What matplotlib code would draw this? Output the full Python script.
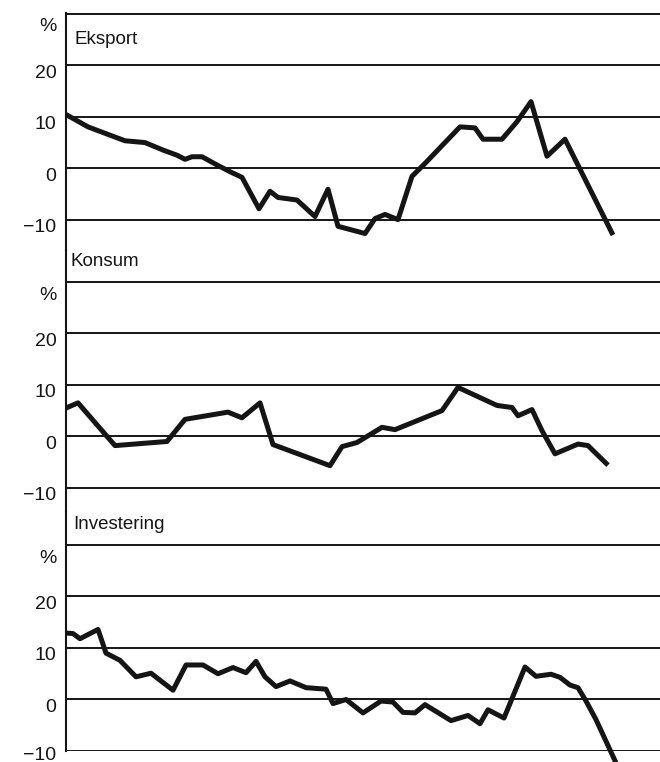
import matplotlib
matplotlib.use("Agg")
import matplotlib.pyplot as plt
import matplotlib.transforms as mtransforms

plt.rcParams['font.family'] = ['Liberation Sans', 'DejaVu Sans']

# time axis in months
eksport_t = [0, 2.2, 3.7, 5.9, 7.9, 9.7, 11.1, 11.9, 12.6, 13.6, 15.1, 16.4, 17.6,
             19.3, 20.4, 21.2, 23.1, 24.9, 26.2, 27.2, 29.9, 30.9, 31.9, 33.2,
             34.6, 35.9, 39.4, 40.9, 41.7, 43.6, 45.1, 46.5, 48.1, 49.9, 54.7]
eksport_v = [10.4, 8.0, 6.9, 5.3, 4.95, 3.5, 2.5, 1.7, 2.2, 2.2, 0.6, -0.7, -1.8,
             -7.9, -4.5, -5.7, -6.2, -9.4, -4.1, -11.3, -12.7, -9.8, -9.0, -10.0,
             -1.6, 0.9, 8.0, 7.8, 5.6, 5.6, 9.0, 12.9, 2.3, 5.6, -13.0]

konsum_t = [0, 1.2, 4.9, 10.1, 11.9, 16.2, 17.6, 19.4, 20.7, 26.4, 27.6, 29.1,
            31.6, 32.9, 37.6, 39.2, 43.1, 44.6, 45.2, 46.6, 47.6, 48.9, 51.2,
            52.2, 54.2]
konsum_v = [5.5, 6.5, -1.8, -1.0, 3.3, 4.7, 3.6, 6.5, -1.6, -5.7, -2.0, -1.2,
            1.75, 1.3, 5.0, 9.5, 6.0, 5.6, 4.0, 5.2, 1.1, -3.4, -1.5, -1.8, -5.6]

invest_t = [0, 0.7, 1.4, 3.2, 4.0, 5.4, 7.0, 8.5, 10.7, 12.0, 13.7, 15.2, 16.7,
            18.0, 19.0, 19.9, 21.0, 22.4, 24.0, 26.0, 26.7, 28.0, 29.7, 31.5,
            32.7, 33.7, 34.9, 35.9, 38.5, 40.2, 41.4, 42.2, 43.8, 45.9, 47.0,
            48.5, 49.4, 50.4, 51.2, 52.0, 53.0, 55.0]
invest_v = [12.9, 12.8, 11.8, 13.6, 9.0, 7.6, 4.4, 5.1, 1.8, 6.7, 6.7, 5.0, 6.2,
            5.2, 7.4, 4.4, 2.5, 3.6, 2.3, 2.0, -0.8, 0.0, -2.6, -0.3,
            -0.5, -2.5, -2.6, -1.0, -4.1, -3.1, -4.7, -2.0, -3.6, 6.3, 4.5,
            4.9, 4.3, 2.8, 2.3, -0.3, -3.9, -12.3]

panels = [
    ("Eksport", eksport_t, eksport_v, (13, 250), (-15.9, 30.1), 24.9, 0.8),
    ("Konsum", konsum_t, konsum_v, (250, 512), (-14.7, 36.2), 33.9, 0.4),
    ("Investering", invest_t, invest_v, (512, 751), (-10.0, 36.4), 33.9, 0.7),
]
grid_levels = [30, 20, 10, 0, -10]
tick_pos = [29, 20, 10, 0, -10]
tick_lab = ['%', '20', '10', '0', '\u221210']

W, H = 660, 762
fig = plt.figure(figsize=(W / 100, H / 100), dpi=100)
ink = '#151515'

for k, (name, t, v, (ptop, pbot), ylim, ytxt, xtxt) in enumerate(panels):
    ax = fig.add_axes([66 / W, 1 - pbot / H, 1 - 66 / W, (pbot - ptop) / H])
    ax.set_xlim(0, 59.4)
    ax.set_ylim(*ylim)
    for s in ['top', 'right', 'bottom']:
        ax.spines[s].set_visible(False)
    ax.spines['left'].set_linewidth(1.5)
    ax.spines['left'].set_color(ink)
    for g in grid_levels:
        ax.axhline(g, color=ink, lw=1.4, zorder=1)
    ax.plot(t, v, color=ink, lw=3.6, solid_joinstyle='round',
            solid_capstyle='butt', clip_on=False, zorder=3)
    ax.set_xticks([])
    ax.set_yticks(tick_pos)
    ax.set_yticklabels(tick_lab, fontsize=14, color=ink)
    ax.tick_params(axis='y', length=0, pad=7)
    labs = ax.get_yticklabels()
    for j, lab in enumerate(labs):
        dy = -6
        if k == 2 and j == len(labs) - 1:
            dy = -2  # keep the bottom label inside the picture
        off = mtransforms.ScaledTranslation(0, dy / 100, fig.dpi_scale_trans)
        lab.set_transform(lab.get_transform() + off)
    ax.text(xtxt, ytxt, name, fontsize=13.5, color=ink, ha='left', va='center')

fig.savefig("out.png", dpi=100, facecolor='white')
